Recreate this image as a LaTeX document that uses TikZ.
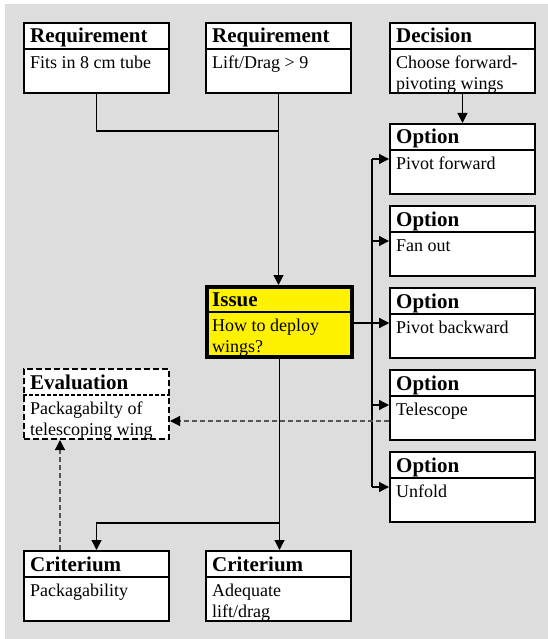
\documentclass[tikz,border=0pt]{standalone}
\usepackage{fontspec}
\setmainfont{Liberation Serif}
\usetikzlibrary{arrows.meta,calc}
\definecolor{bggray}{RGB}{221,221,221}
\definecolor{dashgray}{RGB}{85,85,85}
\newcommand\mkbox[7]{%
  \node[boxbase,#6,anchor=north west] (#1) at (#2,#3) {};
  \draw[#7] ([yshift=-27pt]#1.north west) -- ([yshift=-27pt]#1.north east);
  \node[titletxt,anchor=base west] (#1-t) at ([xshift=7pt,yshift=-21pt]#1.north west) {#4};
  \node[bodytxt,anchor=north west] (#1-b) at ([xshift=7pt,yshift=-32pt]#1.north west) {\rule{0pt}{14pt}#5};
}
\begin{document}
\begin{tikzpicture}[x=1pt,y=-1pt,
  boxbase/.style={draw=black, line width=2pt, fill=white, minimum width=145pt, minimum height=70pt, inner sep=0pt},
  plainbox/.style={},
  issuebox/.style={fill=yellow, line width=4pt},
  evalbox/.style={dash pattern=on 6pt off 3pt},
  seprule/.style={line width=1.5pt},
  evalsep/.style={line width=1.5pt, dash pattern=on 4pt off 2pt},
  titletxt/.style={inner sep=0pt, font=\fontsize{21}{24}\selectfont\bfseries},
  bodytxt/.style={inner sep=0pt, align=left, font=\fontsize{18}{21}\selectfont},
  conn/.style={line width=1.2pt},
  arr/.style={conn, -{Triangle[length=10pt,width=10pt]}},
  dasharr/.style={line width=1.2pt, draw=dashgray, dash pattern=on 5pt off 3pt, -{Triangle[length=10pt,width=10pt,color=black]}}
]
\useasboundingbox (0,0) rectangle (548,639);
\fill[bggray] (5,4) rectangle (548,639);

\mkbox{req1}{23}{22}{Requirement}{Fits in 8 cm tube}{plainbox}{seprule}
\mkbox{req2}{205}{22}{Requirement}{Lift/Drag > 9}{plainbox}{seprule}
\mkbox{dec}{389}{22}{Decision}{Choose forward-\\pivoting wings}{plainbox}{seprule}
\mkbox{opt1}{389}{123}{Option}{Pivot forward}{plainbox}{seprule}
\mkbox{opt2}{389}{205}{Option}{Fan out}{plainbox}{seprule}
\mkbox{opt3}{389}{287}{Option}{Pivot backward}{plainbox}{seprule}
\mkbox{opt4}{389}{369}{Option}{Telescope}{plainbox}{seprule}
\mkbox{opt5}{389}{451}{Option}{Unfold}{plainbox}{seprule}
\mkbox{issue}{205}{285}{Issue}{How to deploy\\wings?}{issuebox}{seprule}
\mkbox{eval}{23}{368}{Evaluation}{Packagabilty of\\telescoping wing}{evalbox}{evalsep}
\mkbox{crit1}{23}{550}{Criterium}{Packagability}{plainbox}{seprule}
\mkbox{crit2}{205}{550}{Criterium}{Adequate\\lift/drag}{plainbox}{seprule}

\coordinate (brk) at (372,0);
\coordinate (j1) at (0,131);
\coordinate (j2) at (0,523);
\foreach \k in {1,...,5} {\coordinate (p\k) at ([yshift=-36pt]opt\k.north west);}
\coordinate (q4) at ([yshift=-52pt]opt4.north west);
\coordinate (c1) at ([xshift=37pt]crit1.north west);

\draw[conn] (req1.south) |- (req2.south |- j1);
\draw[arr] (req2.south) -- (req2.south |- issue.north);
\draw[arr] (dec.south) -- (opt1.north);
\draw[conn] (brk |- p1) -- (brk |- p5);
\foreach \k in {1,...,5} {\draw[arr] (brk |- p\k) -- (p\k);}
\draw[arr] (issue.east |- p3) -- (p3);
\draw[dasharr] (q4) -- (eval.east |- q4);
\draw[dasharr] (c1) -- (eval.south -| c1);
\draw[arr] (issue.south) -- (issue.south |- crit2.north);
\draw[arr] (issue.south |- j2) -| (crit1.north);
\end{tikzpicture}
\end{document}
